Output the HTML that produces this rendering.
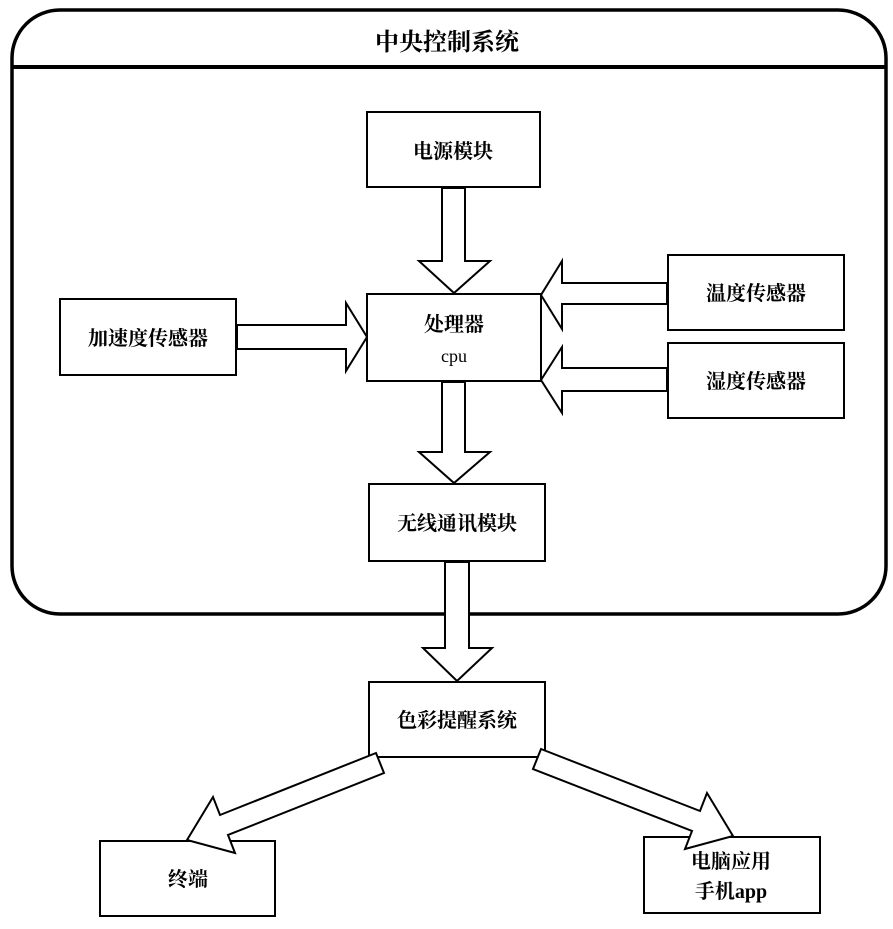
<!DOCTYPE html>
<html><head><meta charset="utf-8"><style>
html,body{margin:0;padding:0;background:#fff;}
svg text{font-family:"Liberation Serif","Noto Serif CJK SC","Noto Sans CJK SC",serif;fill:#000;text-anchor:middle;font-weight:bold;}
</style></head><body>
<svg width="893" height="924" viewBox="0 0 893 924" xmlns="http://www.w3.org/2000/svg">
<g fill="#fff" stroke="#000" stroke-width="2">
<rect x="12" y="10" width="874" height="604" rx="48" ry="48" stroke-width="3.5"/>
<line x1="12" y1="67" x2="886" y2="67" stroke-width="4"/>
<rect x="367" y="112" width="173" height="75"/>
<rect x="367" y="294" width="174" height="87"/>
<rect x="60" y="299" width="176" height="76"/>
<rect x="668" y="255" width="176" height="75"/>
<rect x="668" y="343" width="176" height="75"/>
<rect x="369" y="484" width="176" height="77"/>
<rect x="369" y="682" width="176" height="75"/>
<rect x="100" y="841" width="175" height="75"/>
<rect x="644" y="837" width="176" height="76"/>
<polygon points="442,188 465,188 465,261 490,261 454,293 419,261 442,261"/>
<polygon points="237,325 346,325 346,303 367,337 346,371 346,349 237,349"/>
<polygon points="667,283 562,283 562,261 541,295 562,329 562,304 667,304"/>
<polygon points="667,368 562,368 562,347 541,380 562,413 562,391 667,391"/>
<polygon points="442,382 465,382 465,452 490,452 454,483 419,452 442,452"/>
<polygon points="445,562 469,562 469,648 492,648 457,681 423,648 445,648"/>
<polygon points="384,773 376,753 220,815 213,797 187,840 235,853 228,835"/>
<polygon points="533,769 541,749 700,811 707,793 733,836 685,849 692,831"/>
</g>
<text x="447" y="50" font-size="24">中央控制系统</text>
<text x="453" y="158" font-size="20">电源模块</text>
<text x="454" y="331" font-size="20">处理器</text>
<text x="454" y="362" font-size="18" style="font-weight:normal">cpu</text>
<text x="148" y="345" font-size="20">加速度传感器</text>
<text x="756" y="300" font-size="20">温度传感器</text>
<text x="756" y="388" font-size="20">湿度传感器</text>
<text x="457" y="530" font-size="20">无线通讯模块</text>
<text x="457" y="727" font-size="20">色彩提醒系统</text>
<text x="188" y="886" font-size="20">终端</text>
<text x="731" y="868" font-size="20">电脑应用</text>
<text x="731" y="898" font-size="20">手机app</text>
</svg>
</body></html>
